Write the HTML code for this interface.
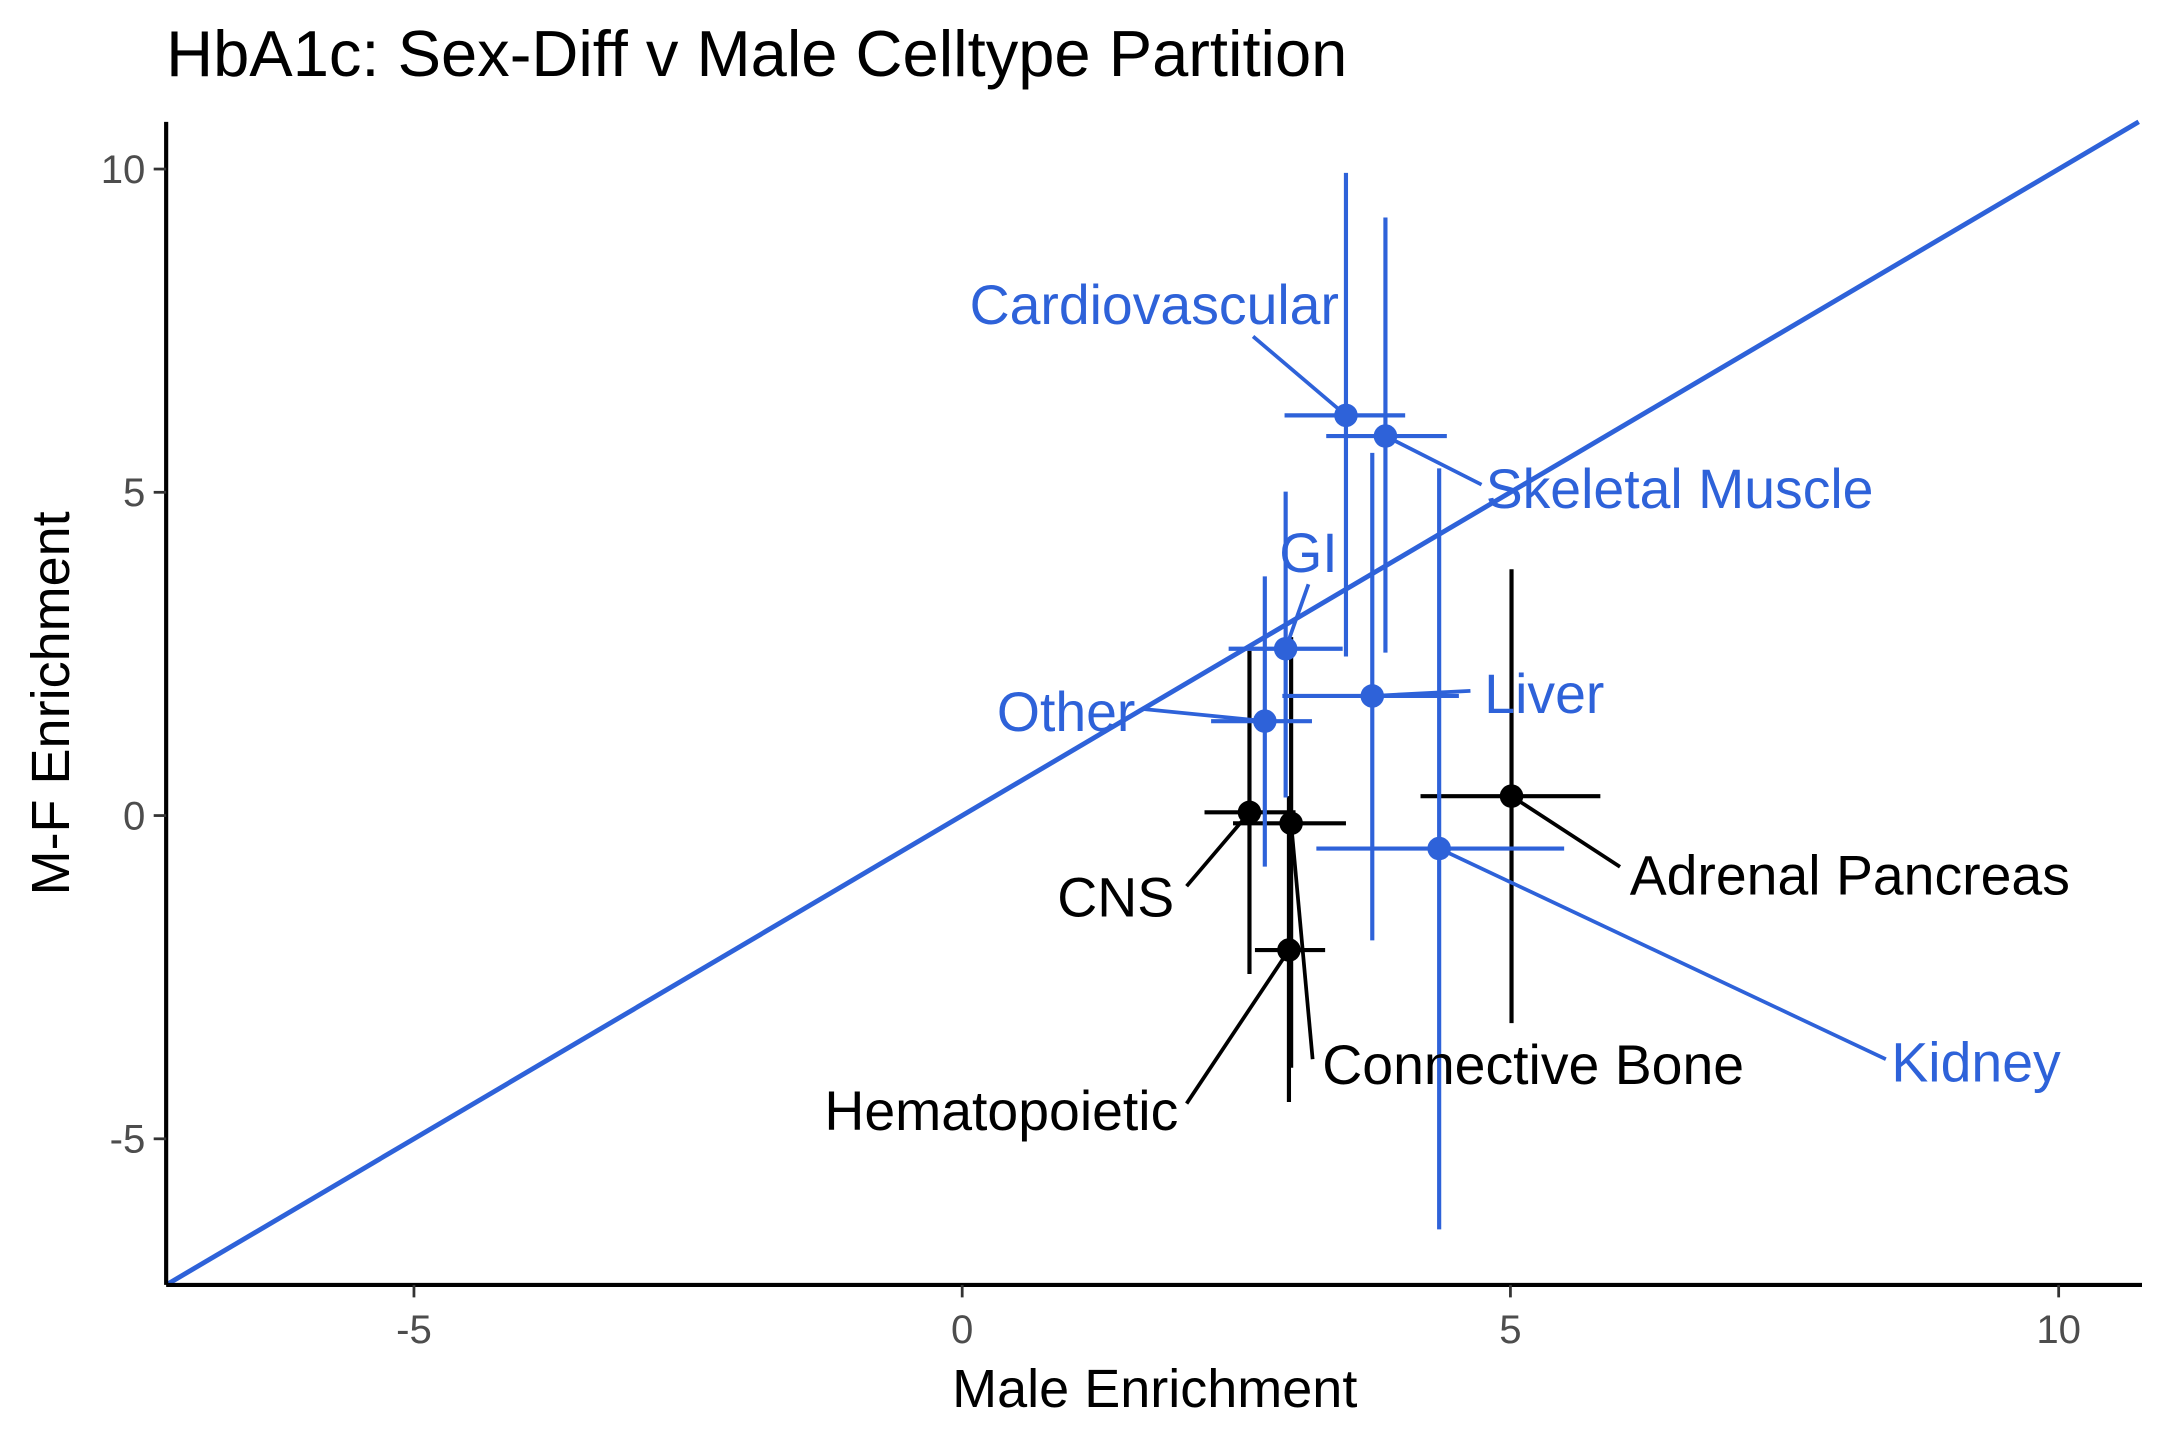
<!DOCTYPE html>
<html><head><meta charset="utf-8"><style>
html,body{margin:0;padding:0;background:#fff;}
svg{display:block;font-family:"Liberation Sans",Arial,sans-serif;}
</style></head><body>
<svg id="chart" width="2160" height="1440" viewBox="0 0 1560 1040" xmlns="http://www.w3.org/2000/svg">
<text x="120" y="55" font-size="47" fill="#000">HbA1c: Sex-Diff v Male Celltype Partition</text>
<g id="plot"></g>
<text x="834" y="1016" font-size="39" text-anchor="middle" fill="#000">Male Enrichment</text>
<text transform="translate(50,508) rotate(-90)" font-size="39" text-anchor="middle" fill="#000">M-F Enrichment</text>
</svg>
<script>
const categories = ["Cardiovascular","Skeletal Muscle","GI","Liver","Other","Kidney","Adrenal Pancreas","CNS","Connective Bone","Hematopoietic"];
const maleValues = [3.50,3.86,2.95,3.74,2.76,4.35,5.01,2.62,3.00,2.98];
const mfValues = [6.19,5.87,2.58,1.85,1.46,-0.51,0.30,0.05,-0.12,-2.08];
const maleLow = [2.94,3.32,2.43,2.92,2.27,3.23,4.18,2.21,2.47,2.67];
const maleHigh = [4.04,4.42,3.47,4.53,3.19,5.49,5.82,3.04,3.50,3.31];
const mfLow = [2.46,2.52,0.28,-1.93,-0.79,-6.40,-3.21,-2.45,-3.90,-4.43];
const mfHigh = [9.94,9.25,5.01,5.61,3.70,5.37,3.81,2.55,2.76,0.30];
const sexDiffGroup = [true,true,true,true,true,true,false,false,false,false];
const xTicks = [-5,0,5,10];
const yTicks = [-5,0,5,10];
// label layout (pixel positions in 1560x1040 view space): text x, text y, anchor, segment end x, y
const labelLayout = [
 [967,234,"end",905,243],[1073,367,"start",1070,350],[945,413,"middle",945,422],
 [1072,515,"start",1062,499],[820,528,"end",825,512],[1366,781,"start",1362,765],
 [1177,646,"start",1170,626],[848,662,"end",857,640],[955,783,"start",948,765],[851,816,"end",857,797]];

const X0=120,X1=1547,Y0=928,Y1=88;
const xMin=-7.26,xMax=10.76,yMin=-7.26,yMax=10.73;
const sx=v=>X0+(v-xMin)/(xMax-xMin)*(X1-X0);
const sy=v=>Y0-(v-yMin)/(yMax-yMin)*(Y0-Y1);
const NS="http://www.w3.org/2000/svg";
const plot=document.getElementById("plot");
function mk(tag,attrs){const e=document.createElementNS(NS,tag);for(const k in attrs)e.setAttribute(k,attrs[k]);plot.appendChild(e);return e;}
const BLUE="#2E62D9";

const lo=Math.max(xMin,yMin),hi=Math.min(xMax,yMax);
let d=mk("line",{x1:sx(lo),y1:sy(lo),x2:sx(hi),y2:sy(hi),stroke:BLUE,"stroke-width":3.5});



for(let i=categories.length-1;i>=0;i--){
 const c=sexDiffGroup[i]?BLUE:"#000";
 const slug=categories[i].toLowerCase().replace(/ /g,'-');
 let v=mk("line",{x1:sx(maleValues[i]),y1:sy(mfLow[i]),x2:sx(maleValues[i]),y2:sy(mfHigh[i]),stroke:c,"stroke-width":3});
 
 
 let h=mk("line",{x1:sx(maleLow[i]),y1:sy(mfValues[i]),x2:sx(maleHigh[i]),y2:sy(mfValues[i]),stroke:c,"stroke-width":3});
 
 
}
for(let i=0;i<categories.length;i++){
 const c=sexDiffGroup[i]?BLUE:"#000";
 const slug=categories[i].toLowerCase().replace(/ /g,'-');
 const L=labelLayout[i];
 let s=mk("line",{x1:sx(maleValues[i]),y1:sy(mfValues[i]),x2:L[3],y2:L[4],stroke:c,"stroke-width":2.7});
 
 
 let p=mk("circle",{cx:sx(maleValues[i]),cy:sy(mfValues[i]),r:8.5,fill:c});
 
 
 let t=mk("text",{x:L[0],y:L[1],"text-anchor":L[2],"font-size":40,fill:c});
 t.textContent=categories[i];
 
 
}

let ax=mk("line",{x1:X0,y1:Y0,x2:X1,y2:Y0,stroke:"#000","stroke-width":3});


let ay=mk("line",{x1:X0,y1:Y0,x2:X0,y2:Y1,stroke:"#000","stroke-width":3});


xTicks.forEach(v=>{
 let tk=mk("line",{x1:sx(v),y1:Y0,x2:sx(v),y2:Y0+9,stroke:"#333","stroke-width":2});
 
 
 let tl=mk("text",{x:sx(v),y:Y0+42,"text-anchor":"middle","font-size":29,fill:"#4d4d4d"});
 tl.textContent=String(v);
 
 
});
yTicks.forEach(v=>{
 let tk=mk("line",{x1:X0-9,y1:sy(v),x2:X0,y2:sy(v),stroke:"#333","stroke-width":2});
 
 
 let tl=mk("text",{x:X0-15,y:sy(v)+10,"text-anchor":"end","font-size":29,fill:"#4d4d4d"});
 tl.textContent=String(v);
 
 
});
</script>
</body></html>
